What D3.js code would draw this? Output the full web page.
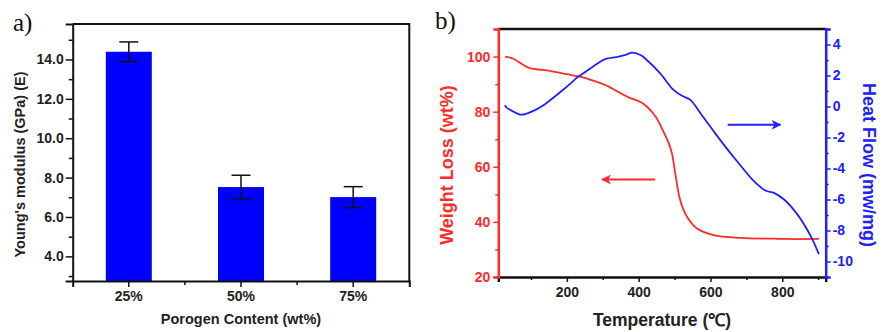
<!DOCTYPE html>
<html>
<head>
<meta charset="utf-8">
<script src="https://cdn.jsdelivr.net/npm/d3@7"></script>
<style>
  body { margin: 0; background: #fff; }
  svg text { font-family: "Liberation Sans", Arial, sans-serif; font-weight: bold; }
</style>
</head>
<body>
<div id="chart"></div>
<script>
// Data - panel a
const porogen = ['25%', '50%', '75%'];
const modulus = [14.39, 7.52, 7.01];
const modulusErr = [0.5, 0.6, 0.53];
const modulusTicks = [4, 6, 8, 10, 12, 14];

const tgaTemp = [28, 51, 93, 153, 200, 232, 256, 312, 326, 372, 409, 446, 470, 484, 493, 502, 516, 535, 563, 609, 684, 777, 805, 902];
const tgaWeight = [100, 99.2, 96, 94.8, 93.6, 92.8, 92, 89.4, 88.4, 85.2, 83.2, 78.4, 72.5, 68.5, 64.7, 57.5, 47.8, 41.8, 37.6, 35.2, 34.2, 33.9, 33.8, 33.8];
const dscTemp = [28, 31, 45, 74, 107, 139, 200, 232, 246, 293, 307, 344, 367, 381, 405, 418, 460, 497, 521, 544, 572, 609, 637, 674, 721, 753, 777, 805, 842, 879, 902];
const dscFlow = [0.1, -0.05, -0.25, -0.53, -0.28, 0.15, 1.28, 1.93, 2.14, 2.89, 3.06, 3.21, 3.36, 3.47, 3.32, 3.1, 2.14, 1.07, 0.69, 0.43, -0.43, -1.6, -2.46, -3.53, -4.82, -5.42, -5.57, -6.0, -6.96, -8.35, -9.53];
const tempTicks = [200, 400, 600, 800];
const weightTicks = [20, 40, 60, 80, 100];
const flowTicks = [-10, -8, -6, -4, -2, 0, 2, 4];
const redArrow = { from: 446, to: 298, at: 55.4 };
const blueArrow = { from: 648, to: 795, at: -1.18 };

function draw() {
  const width = 886;
  const height = 332;
  const red = '#ff2a2a';
  const blue = '#2020ff';

  const svg = d3.select('#chart')
    .append('svg')
    .attr('width', width)
    .attr('height', height);

  const defs = svg.append('defs');
  [['headRed', red], ['headBlue', blue]].forEach(([id, color]) => {
    defs.append('marker')
      .attr('id', id)
      .attr('viewBox', '0 0 10 10')
      .attr('refX', 9).attr('refY', 5)
      .attr('markerWidth', 5).attr('markerHeight', 5)
      .attr('orient', 'auto')
      .append('path')
      .attr('d', 'M0,0 L10,5 L0,10 L3,5 Z')
      .attr('fill', color);
  });

  // ---------- Panel a ----------
  const a = { left: 72.7, right: 409.3, top: 24, bottom: 281 };

  const xBand = d3.scaleBand()
    .domain(porogen)
    .range([a.left, a.right])
    .paddingInner(0.59)
    .paddingOuter(0.295);

  const yMod = d3.scaleLinear()
    .domain([2.75, 15.8])
    .range([a.bottom, a.top]);

  const ga = svg.append('g');

  ga.selectAll('rect.bar')
    .data(modulus)
    .join('rect')
    .attr('class', 'bar')
    .attr('x', (d, i) => xBand(porogen[i]))
    .attr('width', xBand.bandwidth())
    .attr('y', (d) => yMod(d))
    .attr('height', (d) => a.bottom - yMod(d))
    .attr('fill', '#0000ff');

  const errG = ga.append('g')
    .attr('stroke', '#111')
    .attr('stroke-width', 1.6)
    .attr('fill', 'none');
  modulus.forEach((d, i) => {
    const cx = xBand(porogen[i]) + xBand.bandwidth() / 2;
    const y0 = yMod(d - modulusErr[i]);
    const y1 = yMod(d + modulusErr[i]);
    errG.append('line').attr('x1', cx).attr('x2', cx).attr('y1', y0).attr('y2', y1);
    errG.append('line').attr('x1', cx - 9.5).attr('x2', cx + 9.5).attr('y1', y0).attr('y2', y0);
    errG.append('line').attr('x1', cx - 9.5).attr('x2', cx + 9.5).attr('y1', y1).attr('y2', y1);
  });

  // frame top/right
  ga.append('path')
    .attr('d', `M${a.left},${a.top}H${a.right}V${a.bottom}`)
    .attr('fill', 'none').attr('stroke', '#111').attr('stroke-width', 2);

  // y axis a
  const yAxisA = ga.append('g')
    .attr('transform', `translate(${a.left},0)`)
    .call(d3.axisLeft(yMod).tickValues(modulusTicks).tickFormat(d3.format('.1f')).tickSize(7).tickPadding(2));
  ga.append('g')
    .attr('transform', `translate(${a.left},0)`)
    .call(d3.axisLeft(yMod).tickValues(d3.range(3, 16, 2)).tickFormat('').tickSize(4))
    .call((g) => g.select('.domain').remove());

  // x axis a
  const xAxisA = ga.append('g')
    .attr('transform', `translate(0,${a.bottom})`)
    .call(d3.axisBottom(xBand).tickSize(6).tickPadding(4));
  const step = xBand.step();
  ga.append('g')
    .attr('transform', `translate(0,${a.bottom})`)
    .selectAll('line')
    .data(porogen.slice(1))
    .join('line')
    .attr('x1', (d) => xBand(d) + xBand.bandwidth() / 2 - step / 2)
    .attr('x2', (d) => xBand(d) + xBand.bandwidth() / 2 - step / 2)
    .attr('y1', 0).attr('y2', 4)
    .attr('stroke', '#111').attr('stroke-width', 1.5);

  [yAxisA, xAxisA].forEach((g) => {
    g.select('.domain').attr('stroke', '#111').attr('stroke-width', 2);
    g.selectAll('.tick line').attr('stroke', '#111').attr('stroke-width', 1.5);
    g.selectAll('.tick text').attr('font-size', 14).attr('fill', '#222');
  });
  ga.selectAll('g line').filter(function () { return !this.getAttribute('stroke-width'); })
    .attr('stroke', '#111').attr('stroke-width', 1.5);

  ga.append('text')
    .attr('transform', `translate(25,${(a.top + a.bottom) / 2 + 12}) rotate(-90)`)
    .attr('text-anchor', 'middle')
    .attr('font-size', 14.5)
    .attr('fill', '#222')
    .text("Young's modulus (GPa) (E)");

  ga.append('text')
    .attr('x', (a.left + a.right) / 2)
    .attr('y', 324)
    .attr('text-anchor', 'middle')
    .attr('font-size', 14.5)
    .attr('fill', '#222')
    .text('Porogen Content (wt%)');

  svg.append('text')
    .attr('x', 13).attr('y', 31)
    .style('font-family', '"Liberation Serif", "DejaVu Serif", serif')
    .style('font-weight', 'normal')
    .attr('font-size', 25)
    .attr('fill', '#111')
    .text('a)');

  // ---------- Panel b ----------
  const b = { left: 498.3, right: 825.7, top: 29, bottom: 277 };

  const xTemp = d3.scaleLinear().domain([9, 921]).range([b.left, b.right]);
  const yWeight = d3.scaleLinear().domain([20, 110]).range([b.bottom, b.top]);
  const yFlow = d3.scaleLinear().domain([-11, 5]).range([b.bottom, b.top]);

  const gb = svg.append('g');

  gb.append('line')
    .attr('x1', b.left).attr('x2', b.right)
    .attr('y1', b.top).attr('y2', b.top)
    .attr('stroke', '#111').attr('stroke-width', 2.5);

  const xAxisB = gb.append('g')
    .attr('transform', `translate(0,${b.bottom})`)
    .call(d3.axisBottom(xTemp).tickValues(tempTicks).tickSize(5).tickPadding(5));
  gb.append('g')
    .attr('transform', `translate(0,${b.bottom})`)
    .call(d3.axisBottom(xTemp).tickValues([100, 300, 500, 700, 900]).tickFormat('').tickSize(3))
    .call((g) => g.select('.domain').remove())
    .selectAll('line').attr('stroke', '#111').attr('stroke-width', 1.5);
  xAxisB.select('.domain').attr('stroke', '#111').attr('stroke-width', 2.5);
  xAxisB.selectAll('.tick line').attr('stroke', '#111').attr('stroke-width', 1.5);
  xAxisB.selectAll('.tick text').attr('font-size', 14).attr('fill', '#222');

  const yAxisW = gb.append('g')
    .attr('transform', `translate(${b.left},0)`)
    .call(d3.axisLeft(yWeight).tickValues(weightTicks).tickSize(5).tickPadding(3));
  gb.append('g')
    .attr('transform', `translate(${b.left},0)`)
    .call(d3.axisLeft(yWeight).tickValues([30, 50, 70, 90, 110]).tickFormat('').tickSize(3))
    .call((g) => g.select('.domain').remove())
    .selectAll('line').attr('stroke', red).attr('stroke-width', 1.5);
  yAxisW.select('.domain').attr('stroke', red).attr('stroke-width', 2.5);
  yAxisW.selectAll('.tick line').attr('stroke', red).attr('stroke-width', 1.5);
  yAxisW.selectAll('.tick text').attr('font-size', 14).attr('fill', red);

  const yAxisF = gb.append('g')
    .attr('transform', `translate(${b.right},0)`)
    .call(d3.axisRight(yFlow).tickValues(flowTicks).tickSize(5).tickPadding(2));
  gb.append('g')
    .attr('transform', `translate(${b.right},0)`)
    .call(d3.axisRight(yFlow).tickValues(d3.range(-11, 6, 2)).tickFormat('').tickSize(3))
    .call((g) => g.select('.domain').remove())
    .selectAll('line').attr('stroke', blue).attr('stroke-width', 1.5);
  yAxisF.select('.domain').attr('stroke', blue).attr('stroke-width', 2.5);
  yAxisF.selectAll('.tick line').attr('stroke', blue).attr('stroke-width', 1.5);
  yAxisF.selectAll('.tick text').attr('font-size', 14).attr('fill', blue)
    .text((d) => (d < 0 ? '-' + Math.abs(d) : d));

  const tgaLine = d3.line()
    .x((d, i) => xTemp(tgaTemp[i]))
    .y((d) => yWeight(d))
    .curve(d3.curveCatmullRom);
  gb.append('path')
    .datum(tgaWeight)
    .attr('d', tgaLine)
    .attr('fill', 'none').attr('stroke', red).attr('stroke-width', 1.8);

  const dscLine = d3.line()
    .x((d, i) => xTemp(dscTemp[i]))
    .y((d) => yFlow(d))
    .curve(d3.curveCatmullRom);
  gb.append('path')
    .datum(dscFlow)
    .attr('d', dscLine)
    .attr('fill', 'none').attr('stroke', blue).attr('stroke-width', 1.8);

  gb.append('line')
    .attr('x1', xTemp(redArrow.from)).attr('x2', xTemp(redArrow.to))
    .attr('y1', yWeight(redArrow.at)).attr('y2', yWeight(redArrow.at))
    .attr('stroke', red).attr('stroke-width', 2)
    .attr('marker-end', 'url(#headRed)');
  gb.append('line')
    .attr('x1', xTemp(blueArrow.from)).attr('x2', xTemp(blueArrow.to))
    .attr('y1', yFlow(blueArrow.at)).attr('y2', yFlow(blueArrow.at))
    .attr('stroke', blue).attr('stroke-width', 2)
    .attr('marker-end', 'url(#headBlue)');

  gb.append('text')
    .attr('transform', `translate(453,${(b.top + b.bottom) / 2 + 12}) rotate(-90)`)
    .attr('text-anchor', 'middle')
    .attr('font-size', 18)
    .attr('fill', red)
    .text('Weight Loss (wt%)');

  gb.append('text')
    .attr('transform', `translate(863,${(b.top + b.bottom) / 2 + 12}) rotate(90)`)
    .attr('text-anchor', 'middle')
    .attr('font-size', 18)
    .attr('fill', blue)
    .text('Heat Flow (mw/mg)');

  gb.append('text')
    .attr('x', 662)
    .attr('y', 326)
    .attr('text-anchor', 'middle')
    .attr('font-size', 17.5)
    .attr('fill', '#222')
    .text('Temperature (\u2103)');

  svg.append('text')
    .attr('x', 435).attr('y', 29)
    .style('font-family', '"Liberation Serif", "DejaVu Serif", serif')
    .style('font-weight', 'normal')
    .attr('font-size', 25)
    .attr('fill', '#111')
    .text('b)');
}

draw()
</script>
</body>
</html>
